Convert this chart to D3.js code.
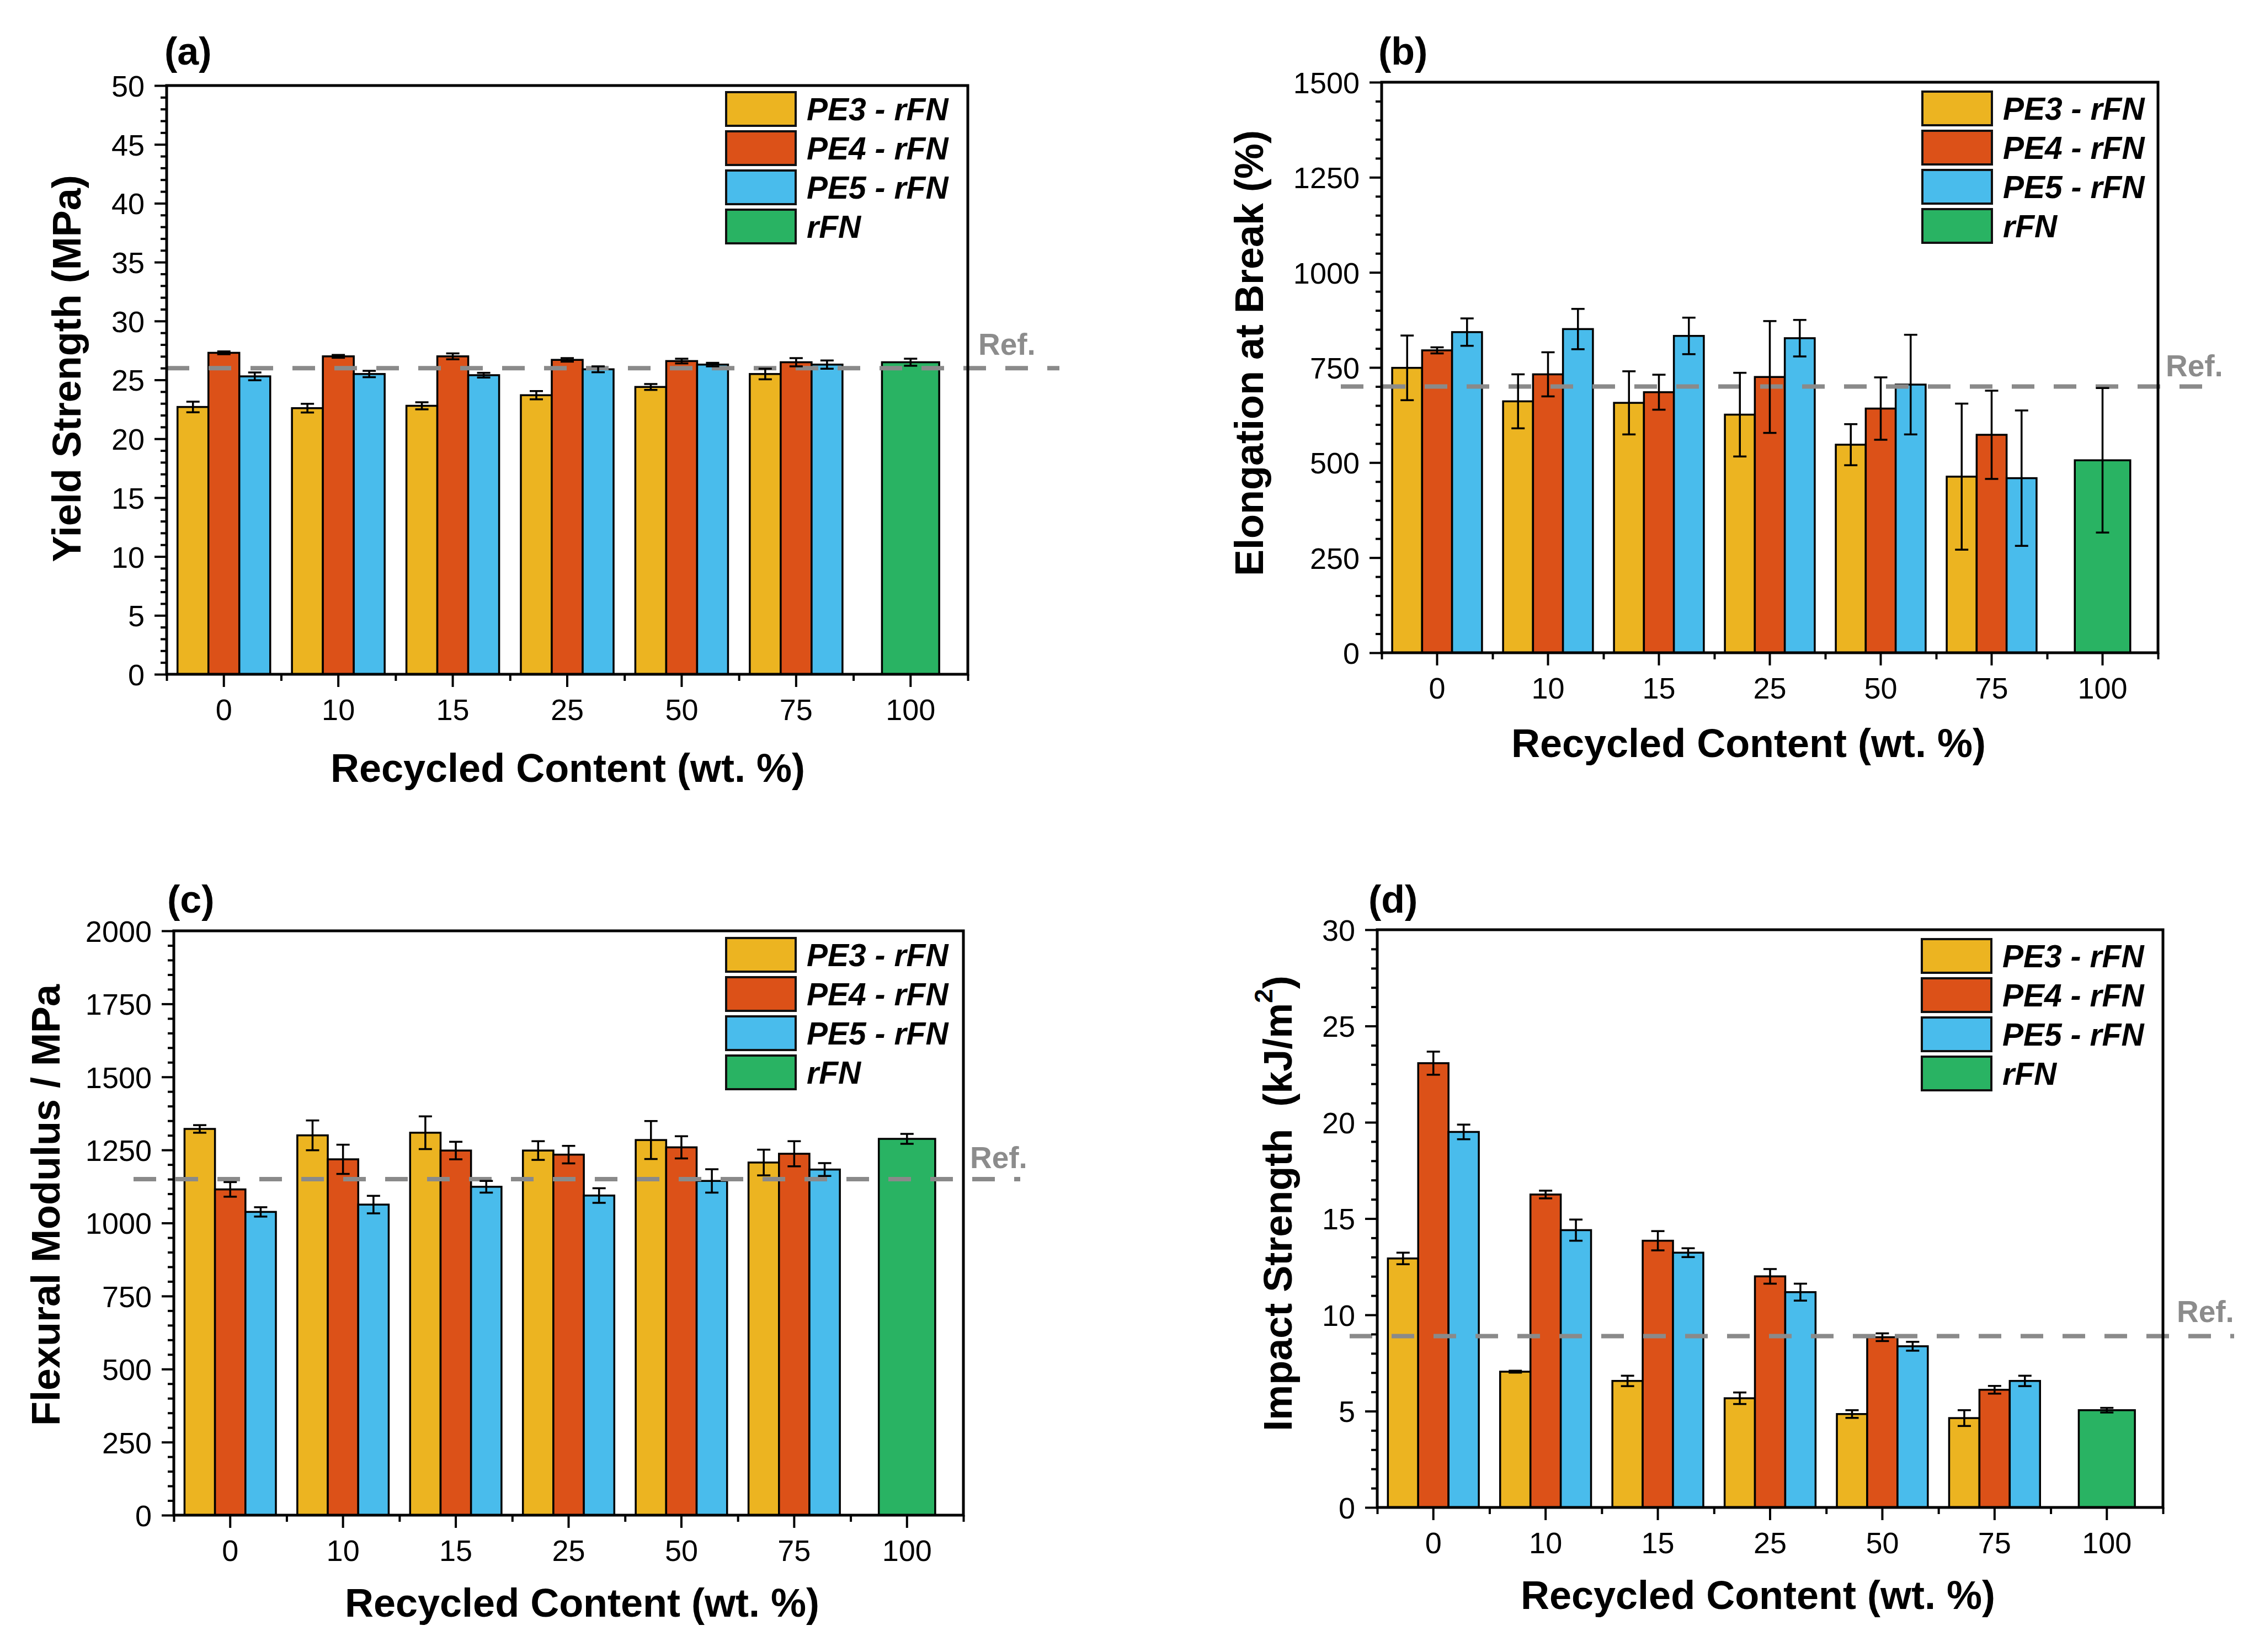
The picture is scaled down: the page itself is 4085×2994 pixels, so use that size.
<!DOCTYPE html>
<html>
<head>
<meta charset="utf-8">
<script src="https://d3js.org/d3.v7.min.js"></script>
<style>
  body { margin: 0; background: #fff; }
  text { font-family: "Liberation Sans", Arial, sans-serif; }
</style>
</head>
<body>
<svg id="vis"></svg>
<script>
  // categories and series
  var categories = ["0", "10", "15", "25", "50", "75", "100"];
  var seriesNames = ["PE3 - rFN", "PE4 - rFN", "PE5 - rFN", "rFN"];

  // (a) yield strength, MPa
  var yieldPE3 = [22.7, 22.6, 22.8, 23.7, 24.4, 25.5];
  var yieldPE3Err = [0.45, 0.37, 0.3, 0.35, 0.25, 0.45];
  var yieldPE4 = [27.3, 27.0, 27.0, 26.7, 26.6, 26.5];
  var yieldPE4Err = [0.12, 0.12, 0.25, 0.15, 0.2, 0.35];
  var yieldPE5 = [25.3, 25.5, 25.4, 25.9, 26.3, 26.3];
  var yieldPE5Err = [0.33, 0.27, 0.2, 0.25, 0.15, 0.35];
  var yieldRFN = 26.5, yieldRFNErr = 0.3, yieldRef = 26;

  // (b) elongation at break, %
  var elongPE3 = [749, 661, 657, 626, 547, 463];
  var elongPE3Err = [85, 71, 83, 110, 54, 192];
  var elongPE4 = [795, 732, 685, 725, 642, 573];
  var elongPE4Err = [8, 58, 46, 147, 82, 116];
  var elongPE5 = [843, 851, 833, 827, 705, 459];
  var elongPE5Err = [36, 53, 48, 48, 131, 178];
  var elongRFN = 506, elongRFNErr = 190, elongRef = 700;

  // (c) flexural modulus, MPa
  var flexPE3 = [1322, 1300, 1309, 1248, 1284, 1207];
  var flexPE3Err = [13, 51, 56, 32, 65, 44];
  var flexPE4 = [1115, 1218, 1248, 1234, 1259, 1237];
  var flexPE4Err = [25, 50, 30, 30, 38, 43];
  var flexPE5 = [1038, 1063, 1124, 1094, 1144, 1183];
  var flexPE5Err = [16, 30, 20, 25, 40, 22];
  var flexRFN = 1288, flexRFNErr = 17, flexRef = 1150;

  // (d) impact strength, kJ/m2
  var impactPE3 = [12.93, 7.05, 6.57, 5.67, 4.85, 4.64];
  var impactPE3Err = [0.3, 0.05, 0.27, 0.3, 0.2, 0.41];
  var impactPE4 = [23.07, 16.25, 13.85, 12.0, 8.84, 6.11];
  var impactPE4Err = [0.6, 0.2, 0.5, 0.38, 0.2, 0.2];
  var impactPE5 = [19.5, 14.4, 13.23, 11.18, 8.37, 6.57];
  var impactPE5Err = [0.38, 0.55, 0.23, 0.44, 0.23, 0.27];
  var impactRFN = 5.05, impactRFNErr = 0.12, impactRef = 8.9;

  var colors = ["#ECB421", "#DC5118", "#49BCEC", "#29B363"];

  var width = 4085;
  var height = 2994;

  var svg = d3.select('#vis')
      .attr('width', width)
      .attr('height', height);

  svg.append('rect')
      .attr('width', width)
      .attr('height', height)
      .attr('fill', 'white');

  var panels = [
    { tag: "(a)", title: "Yield Strength (MPa)", yMax: 50, step: 5, minor: 1,
      vals: [yieldPE3, yieldPE4, yieldPE5], errs: [yieldPE3Err, yieldPE4Err, yieldPE5Err],
      rfn: yieldRFN, rfnErr: yieldRFNErr, ref: yieldRef,
      box: {l: 302, r: 1754, t: 155, b: 1222},
      tagPos: [298, 93], yTitlePos: [121, 668], xTitlePos: [1029, 1392],
      legend: [1316, 167], refLine: [302, 1920], refText: [1773, -43] },
    { tag: "(b)", title: "Elongation at Break (%)", yMax: 1500, step: 250, minor: 50,
      vals: [elongPE3, elongPE4, elongPE5], errs: [elongPE3Err, elongPE4Err, elongPE5Err],
      rfn: elongRFN, rfnErr: elongRFNErr, ref: elongRef,
      box: {l: 2504, r: 3911, t: 149, b: 1183},
      tagPos: [2498, 93], yTitlePos: [2264, 640], xTitlePos: [3169, 1347],
      legend: [3484, 166], refLine: [2430, 4016], refText: [3925, -37] },
    { tag: "(c)", title: "Flexural Modulus / MPa", yMax: 2000, step: 250, minor: 50,
      vals: [flexPE3, flexPE4, flexPE5], errs: [flexPE3Err, flexPE4Err, flexPE5Err],
      rfn: flexRFN, rfnErr: flexRFNErr, ref: flexRef,
      box: {l: 315, r: 1746, t: 1687, b: 2746},
      tagPos: [303, 1630], yTitlePos: [83, 2184], xTitlePos: [1055, 2905],
      legend: [1316, 1700], refLine: [242, 1849], refText: [1758, -39] },
    { tag: "(d)", title: "Impact Strength  (kJ/m", sup: "2", yMax: 30, step: 5, minor: 1,
      vals: [impactPE3, impactPE4, impactPE5], errs: [impactPE3Err, impactPE4Err, impactPE5Err],
      rfn: impactRFN, rfnErr: impactRFNErr, ref: impactRef,
      box: {l: 2496, r: 3920, t: 1685, b: 2732},
      tagPos: [2480, 1630], yTitlePos: [2316, 2181], xTitlePos: [3186, 2891],
      legend: [3483, 1702], refLine: [2446, 4049], refText: [3945, -44] }
  ];

  panels.forEach(function(p) {
    var g = svg.append('g');
    var bx = p.box;

    var xscale = d3.scaleBand()
        .domain(categories)
        .range([bx.l, bx.r])
        .paddingInner(0)
        .paddingOuter(0);
    var band = xscale.bandwidth();
    var bw = band * 0.27;

    var inner = d3.scaleBand()
        .domain([0, 1, 2])
        .range([-1.5 * bw, 1.5 * bw]);

    var yscale = d3.scaleLinear()
        .domain([0, p.yMax])
        .range([bx.b, bx.t]);

    // bars data
    var bars = [];
    categories.slice(0, 6).forEach(function(c, i) {
      for (var s = 0; s < 3; s++) {
        bars.push({cat: c, s: s, v: p.vals[s][i], e: p.errs[s][i],
                   x: xscale(c) + band / 2 + inner(s), w: inner.bandwidth()});
      }
    });
    bars.push({cat: "100", s: 3, v: p.rfn, e: p.rfnErr,
               x: xscale("100") + band / 2 - band * 0.25, w: band * 0.5});

    g.selectAll('rect.bar')
        .data(bars)
        .enter().append('rect')
        .attr('class', 'bar')
        .attr('x', function(d) { return d.x; })
        .attr('y', function(d) { return yscale(d.v); })
        .attr('width', function(d) { return d.w; })
        .attr('height', function(d) { return yscale(0) - yscale(d.v); })
        .attr('fill', function(d) { return colors[d.s]; })
        .attr('stroke', 'black')
        .attr('stroke-width', 3.5);

    // reference line
    g.append('line')
        .attr('x1', p.refLine[0])
        .attr('x2', p.refLine[1])
        .attr('y1', yscale(p.ref))
        .attr('y2', yscale(p.ref))
        .attr('stroke', '#8a8a8a')
        .attr('stroke-width', 8)
        .attr('stroke-dasharray', '41,35');

    g.append('text')
        .attr('x', p.refText[0])
        .attr('y', yscale(p.ref) + p.refText[1])
        .attr('dominant-baseline', 'central')
        .attr('font-size', 55)
        .attr('font-weight', 'bold')
        .attr('fill', '#8c8c8c')
        .text('Ref.');

    // error bars
    var eb = g.selectAll('g.err')
        .data(bars)
        .enter().append('g')
        .attr('class', 'err')
        .attr('stroke', 'black')
        .attr('stroke-width', 3.5);
    eb.append('line')
        .attr('x1', function(d) { return d.x + d.w / 2; })
        .attr('x2', function(d) { return d.x + d.w / 2; })
        .attr('y1', function(d) { return yscale(d.v - d.e); })
        .attr('y2', function(d) { return yscale(d.v + d.e); });
    [-1, 1].forEach(function(sign) {
      eb.append('line')
          .attr('x1', function(d) { return d.x + d.w / 2 - 12; })
          .attr('x2', function(d) { return d.x + d.w / 2 + 12; })
          .attr('y1', function(d) { return yscale(d.v + sign * d.e); })
          .attr('y2', function(d) { return yscale(d.v + sign * d.e); });
    });

    // y axis: major and minor ticks
    var majors = d3.range(0, p.yMax + p.step / 2, p.step);
    var minors = d3.range(0, p.yMax + p.minor / 2, p.minor)
        .filter(function(v) { return Math.abs(v / p.step - Math.round(v / p.step)) > 1e-6; });

    var yMinor = g.append('g')
        .attr('transform', 'translate(' + bx.l + ',0)')
        .call(d3.axisLeft(yscale).tickValues(minors).tickSize(11).tickFormat(''));
    var yMajor = g.append('g')
        .attr('transform', 'translate(' + bx.l + ',0)')
        .call(d3.axisLeft(yscale).tickValues(majors).tickSize(22).tickPadding(18)
              .tickFormat(d3.format('d')));

    // x axis: category ticks and boundary ticks
    var xMajor = g.append('g')
        .attr('transform', 'translate(0,' + bx.b + ')')
        .call(d3.axisBottom(xscale).tickSize(23).tickPadding(22));
    var bounds = categories.map(function(c) { return xscale(c); }).concat([bx.r]);
    var xMinor = g.append('g')
        .attr('transform', 'translate(0,' + bx.b + ')')
        .call(d3.axisBottom(d3.scaleIdentity()).tickValues(bounds).tickSize(12).tickFormat(''));

    [yMinor, yMajor, xMajor, xMinor].forEach(function(a) {
      a.select('.domain').remove();
      a.selectAll('.tick line').attr('stroke', 'black').attr('stroke-width', 4);
    });
    [yMajor, xMajor].forEach(function(a) {
      a.selectAll('.tick text')
          .attr('font-size', 54)
          .attr('fill', 'black')
          .style('font-family', '"Liberation Sans", Arial, sans-serif');
    });
    yMajor.selectAll('.tick text').attr('dy', '0.36em');

    // frame
    g.append('rect')
        .attr('x', bx.l)
        .attr('y', bx.t)
        .attr('width', bx.r - bx.l)
        .attr('height', bx.b - bx.t)
        .attr('fill', 'none')
        .attr('stroke', 'black')
        .attr('stroke-width', 5);

    // legend
    var leg = g.selectAll('g.leg')
        .data(seriesNames)
        .enter().append('g')
        .attr('class', 'leg')
        .attr('transform', function(d, i) {
          return 'translate(' + p.legend[0] + ',' + (p.legend[1] + i * 71) + ')';
        });
    leg.append('rect')
        .attr('width', 126)
        .attr('height', 61)
        .attr('fill', function(d, i) { return colors[i]; })
        .attr('stroke', '#111')
        .attr('stroke-width', 4);
    leg.append('text')
        .attr('x', 146)
        .attr('y', 31)
        .attr('dominant-baseline', 'central')
        .attr('font-size', 57)
        .attr('font-weight', 'bold')
        .attr('font-style', 'italic')
        .text(function(d) { return d; });

    // panel tag
    g.append('text')
        .attr('x', p.tagPos[0])
        .attr('y', p.tagPos[1])
        .attr('dominant-baseline', 'central')
        .attr('font-size', 70)
        .attr('font-weight', 'bold')
        .text(p.tag);

    // y title
    var yt = g.append('text')
        .attr('transform', 'translate(' + p.yTitlePos[0] + ',' + p.yTitlePos[1] + ') rotate(-90)')
        .attr('text-anchor', 'middle')
        .attr('dominant-baseline', 'central')
        .attr('font-size', 72)
        .attr('font-weight', 'bold')
        .style('white-space', 'pre')
        .text(p.title);
    if (p.sup) {
      yt.append('tspan').attr('dy', -26).attr('font-size', 46).text(p.sup);
      yt.append('tspan').attr('dy', 26).text(')');
    }

    // x title
    g.append('text')
        .attr('x', p.xTitlePos[0])
        .attr('y', p.xTitlePos[1])
        .attr('text-anchor', 'middle')
        .attr('dominant-baseline', 'central')
        .attr('font-size', 72)
        .attr('font-weight', 'bold')
        .text('Recycled Content (wt. %)');
  });
</script>
</body>
</html>
